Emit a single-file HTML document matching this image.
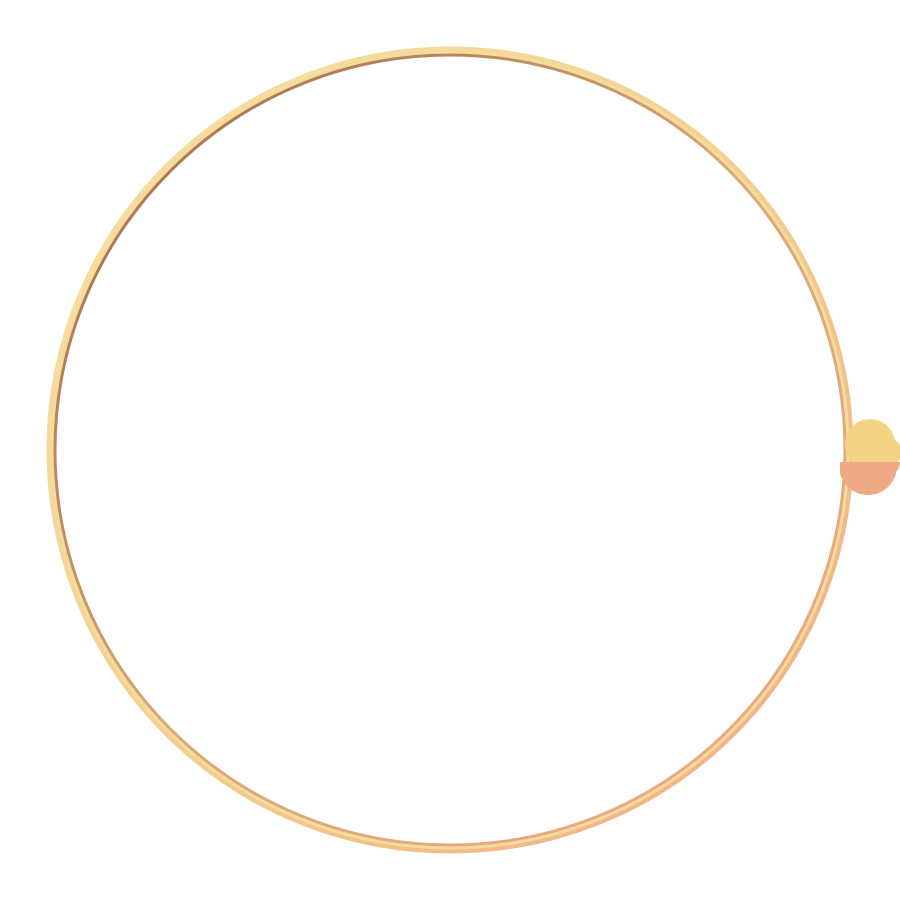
<!DOCTYPE html>
<html><head><meta charset="utf-8"><style>html,body{margin:0;background:#fff}svg{display:block}</style></head>
<body>
<svg width="900" height="900" viewBox="0 0 900 900">
<defs>
<linearGradient id="gin" x1="0" y1="0" x2="1" y2="1">
<stop offset="0" stop-color="#9c6444"/><stop offset="0.5" stop-color="#d9a877"/><stop offset="1" stop-color="#f2a884"/>
</linearGradient>
<linearGradient id="gout" x1="0" y1="0" x2="1" y2="1">
<stop offset="0" stop-color="#f7e2a6"/><stop offset="0.5" stop-color="#f3d08e"/><stop offset="1" stop-color="#f0a986"/>
</linearGradient>
<clipPath id="cb"><rect id="cbrect" x="840" y="462" width="80" height="80"/></clipPath>
</defs>
<g>
<circle cx="450" cy="450" r="400" fill="none" stroke="url(#gout)" stroke-width="7"/>
<circle cx="450" cy="450" r="398" fill="none" stroke="#f6dc9c" stroke-width="3"/>
<circle cx="450" cy="450" r="395" fill="none" stroke="url(#gin)" stroke-width="3"/>
</g>
<g id="blob">
<circle cx="870" cy="444" r="25" fill="#f4d387"/>
<circle cx="888" cy="452" r="14" fill="#f4d387"/>
<g clip-path="url(#cb)">
<circle cx="868" cy="466" r="29" fill="#efa984"/>
<circle cx="886" cy="462" r="14" fill="#efa984"/>
</g>
</g>
<script>
const labels=['a','b'];
const values=[44,34];
const top0=418;
const total=values.reduce((a,b)=>a+b,0);
document.getElementById('cbrect').setAttribute('y', top0 + 78*values[0]/total);
</script>
</svg>
</body></html>
